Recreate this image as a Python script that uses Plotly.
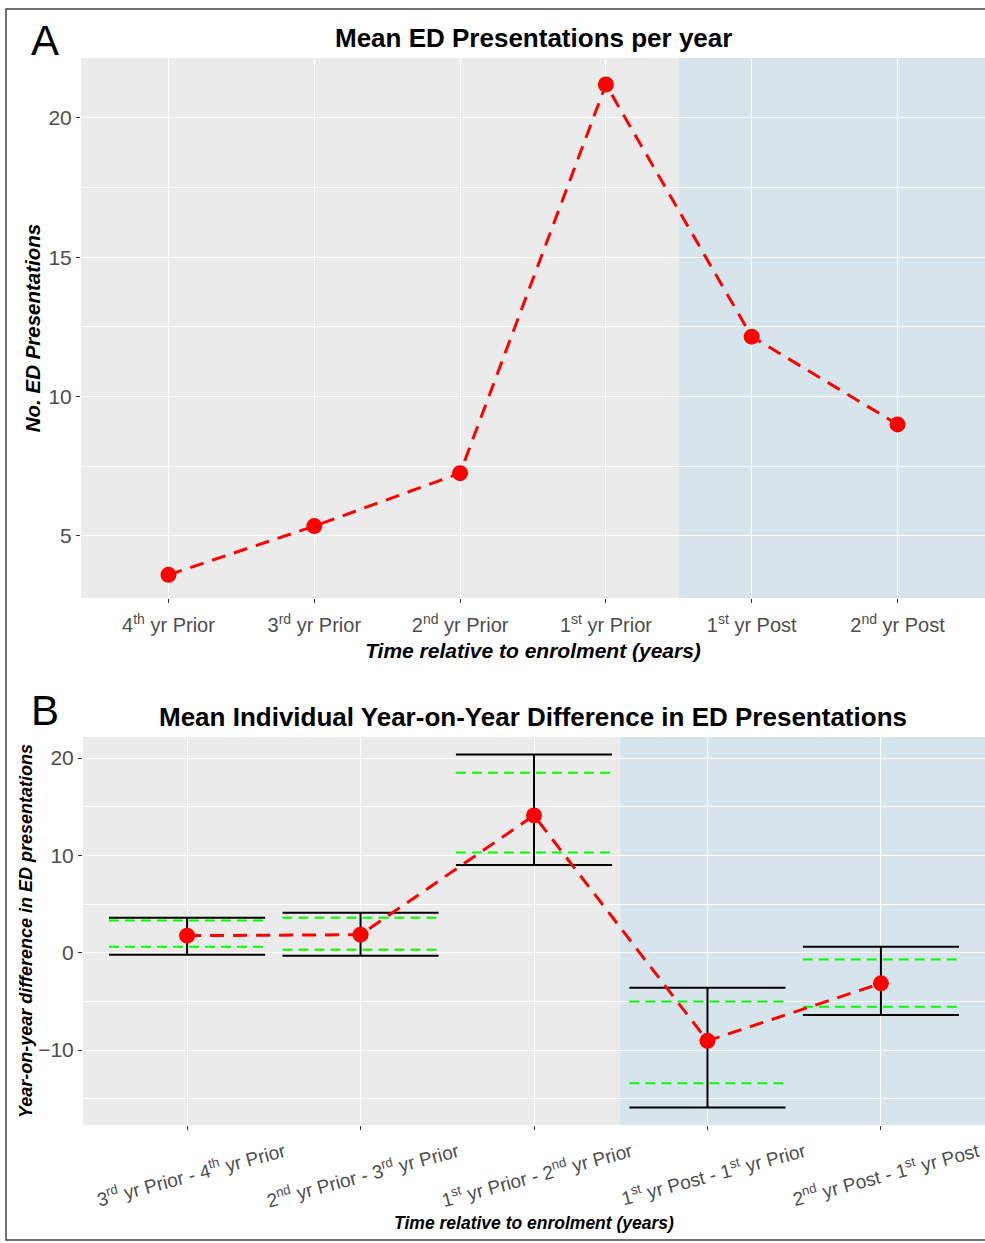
import plotly.graph_objects as go

# ---------------- data ----------------
cats_a = ["4<sup>th</sup> yr Prior", "3<sup>rd</sup> yr Prior", "2<sup>nd</sup> yr Prior",
          "1<sup>st</sup> yr Prior", "1<sup>st</sup> yr Post", "2<sup>nd</sup> yr Post"]
mean_a = [3.6, 5.35, 7.25, 21.2, 12.15, 9.0]

cats_b = ["3<sup>rd</sup> yr Prior - 4<sup>th</sup> yr Prior",
          "2<sup>nd</sup> yr Prior - 3<sup>rd</sup> yr Prior",
          "1<sup>st</sup> yr Prior - 2<sup>nd</sup> yr Prior",
          "1<sup>st</sup> yr Post - 1<sup>st</sup> yr Prior",
          "2<sup>nd</sup> yr Post - 1<sup>st</sup> yr Post"]
mean_b = [1.75, 1.85, 14.1, -9.05, -3.15]
ci_hi = [3.6, 4.1, 20.35, -3.6, 0.6]
ci_lo = [-0.2, -0.3, 9.0, -15.9, -6.4]
green_hi = [3.3, 3.6, 18.5, -5.0, -0.7]
green_lo = [0.6, 0.3, 10.3, -13.4, -5.55]

yticks_a = [5, 10, 15, 20]
yticks_b = [-10, 0, 10, 20]

# ---------------- figure ----------------
W, H = 985, 1243
FONT = "Liberation Sans, Arial, sans-serif"
HW = 0.45  # half width of bars

xa = list(range(1, len(cats_a) + 1))
xb = list(range(1, len(cats_b) + 1))

fig = go.Figure()

# Panel A
fig.add_trace(go.Scatter(
    x=xa, y=mean_a, mode="lines+markers", xaxis="x", yaxis="y",
    line=dict(color="#FF0000", width=3, dash="14px,9px"),
    marker=dict(color="#FF0000", size=16), showlegend=False, hoverinfo="skip"))

# Panel B : black error bars
ex, ey = [], []
for i, (lo, hi) in enumerate(zip(ci_lo, ci_hi)):
    c = xb[i]
    ex += [c - HW, c + HW, None, c - HW, c + HW, None, c, c, None]
    ey += [hi, hi, None, lo, lo, None, lo, hi, None]
fig.add_trace(go.Scatter(x=ex, y=ey, mode="lines", xaxis="x2", yaxis="y2",
                         line=dict(color="black", width=2), showlegend=False,
                         hoverinfo="skip"))
gx, gy = [], []
for i, (lo, hi) in enumerate(zip(green_lo, green_hi)):
    c = xb[i]
    gx += [c - HW, c + HW, None, c - HW, c + HW, None]
    gy += [hi, hi, None, lo, lo, None]
fig.add_trace(go.Scatter(x=gx, y=gy, mode="lines", xaxis="x2", yaxis="y2",
                         line=dict(color="#00FF00", width=2, dash="10px,6px"),
                         showlegend=False, hoverinfo="skip"))
fig.add_trace(go.Scatter(
    x=xb, y=mean_b, mode="lines+markers", xaxis="x2", yaxis="y2",
    line=dict(color="#FF0000", width=3, dash="14px,9px"),
    marker=dict(color="#FF0000", size=16), showlegend=False, hoverinfo="skip"))

def px_x(p):
    return p / W

def px_y(p):
    return 1 - p / H

axis_common = dict(showline=False, zeroline=False, gridcolor="white", gridwidth=1.3,
                   ticks="outside", ticklen=4, tickcolor="#333333", tickwidth=1,
                   automargin=False)

fig.update_layout(
    width=W, height=H, margin=dict(l=0, r=0, t=0, b=0),
    paper_bgcolor="white", plot_bgcolor="#EBEBEB",
    font=dict(family=FONT, color="#4D4D4D"),
    xaxis=dict(domain=[px_x(81), 1.0], anchor="y", range=[0.4, 6.6],
               tickmode="array", tickvals=xa, ticktext=cats_a,
               tickfont=dict(size=20, color="#4D4D4D"), ticklabelstandoff=5,
               title=dict(text="<b><i>Time relative to enrolment (years)</i></b>",
                          font=dict(size=21, color="black"), standoff=8),
               **axis_common),
    yaxis=dict(domain=[px_y(598), px_y(58)], anchor="x", range=[2.77, 22.15],
               tickmode="array", tickvals=yticks_a,
               tickfont=dict(size=21, color="#4D4D4D"),
               minor=dict(tickvals=[7.5, 12.5, 17.5], showgrid=True, gridcolor="white",
                          gridwidth=0.6, ticks=""),
               title=dict(text="<b><i>No. ED Presentations</i></b>",
                          font=dict(size=20.5, color="black"), standoff=2),
               **axis_common),
    xaxis2=dict(domain=[px_x(83), 1.0], anchor="y2", range=[0.4, 5.6],
                tickmode="array", tickvals=xb, ticktext=cats_b, tickangle=-15,
                ticklabelshift=97, ticklabelstandoff=4,
                tickfont=dict(size=19, color="#4D4D4D"),
                title=dict(text="<b><i>Time relative to enrolment (years)</i></b>",
                           font=dict(size=17.5, color="black"), standoff=6),
                **axis_common),
    yaxis2=dict(domain=[px_y(1125), px_y(737)], anchor="x2", range=[-17.7, 22.16],
                tickmode="array", tickvals=yticks_b,
                tickfont=dict(size=21, color="#4D4D4D"),
                minor=dict(tickvals=[-15, -5, 5, 15], showgrid=True, gridcolor="white",
                           gridwidth=0.6, ticks=""),
                title=dict(text="<b><i>Year-on-year difference in ED presentations</i></b>",
                           font=dict(size=18, color="black"), standoff=0),
                **axis_common),
)

# shaded post-enrolment regions
fig.add_shape(type="rect", xref="x", yref="y domain", x0=4.5, x1=6.6, y0=0, y1=1,
              fillcolor="#D6E5EC", line=dict(width=0), layer="below")
fig.add_shape(type="rect", xref="x2", yref="y2 domain", x0=3.5, x1=5.6, y0=0, y1=1,
              fillcolor="#D6E5EC", line=dict(width=0), layer="below")

# outer frame
fig.add_shape(type="rect", xref="paper", yref="paper",
              x0=px_x(6), x1=1.03, y0=px_y(1240), y1=px_y(9),
              line=dict(color="#444444", width=1.5), fillcolor="rgba(0,0,0,0)")

# titles
fig.add_annotation(text="<b>Mean ED Presentations per year</b>", xref="paper", yref="paper",
                   x=px_x(533), y=px_y(38), showarrow=False, xanchor="center", yanchor="middle",
                   font=dict(size=26, color="black", family=FONT))
fig.add_annotation(text="<b>Mean Individual Year-on-Year Difference in ED Presentations</b>",
                   xref="paper", yref="paper", x=px_x(533), y=px_y(717), showarrow=False,
                   xanchor="center", yanchor="middle",
                   font=dict(size=26, color="black", family=FONT))
# panel letters
fig.add_annotation(text="A", xref="paper", yref="paper", x=px_x(45), y=px_y(40),
                   showarrow=False, xanchor="center", yanchor="middle",
                   font=dict(size=42, color="black", family=FONT))
fig.add_annotation(text="B", xref="paper", yref="paper", x=px_x(45), y=px_y(710),
                   showarrow=False, xanchor="center", yanchor="middle",
                   font=dict(size=42, color="black", family=FONT))

fig.write_html("out.html", config={"displayModeBar": False},
               post_script="document.body.style.margin='0';document.body.style.overflow='hidden';")
